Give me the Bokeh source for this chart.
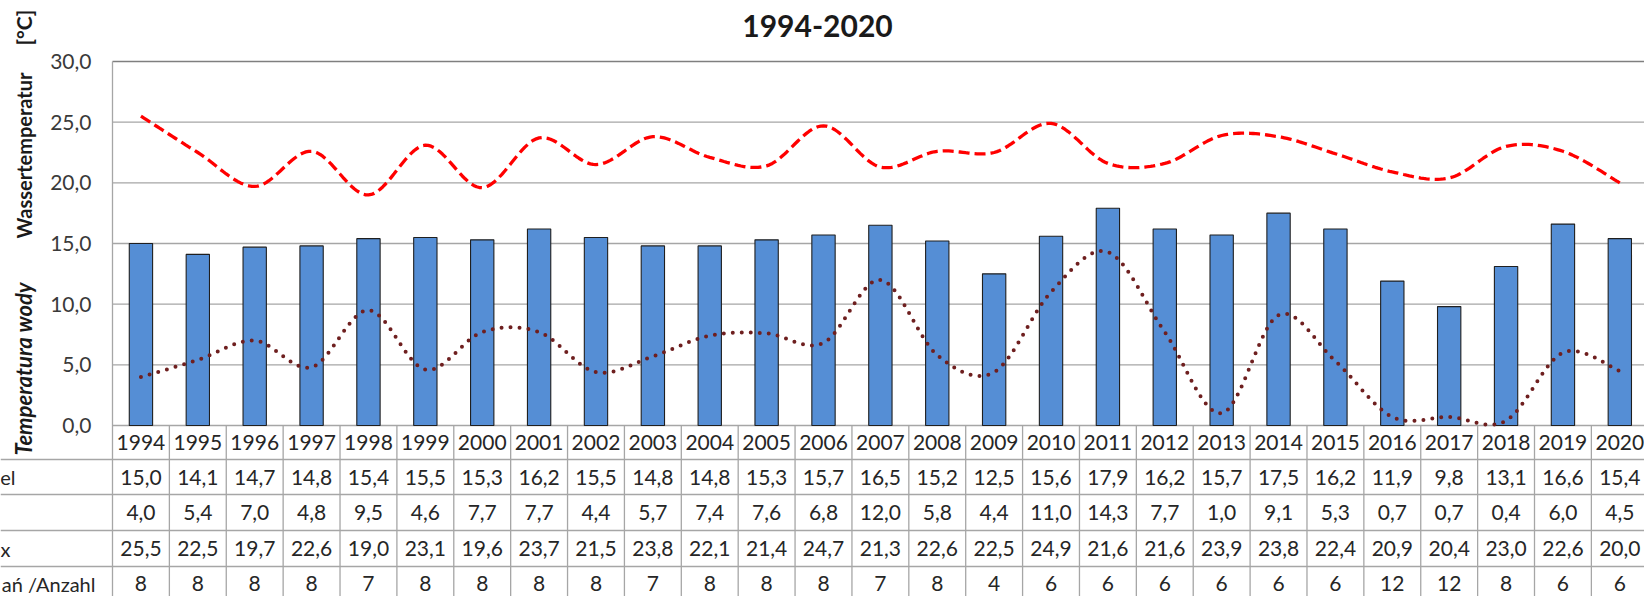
import math
from bokeh.plotting import figure
from bokeh.models import FixedTicker, CustomJSTickFormatter, Label, Range1d
from bokeh.core.properties import value
from bokeh.embed import file_html
from bokeh.resources import INLINE

# ---------------- data ----------------
years = [1994, 1995, 1996, 1997, 1998, 1999, 2000, 2001, 2002, 2003, 2004, 2005, 2006,
         2007, 2008, 2009, 2010, 2011, 2012, 2013, 2014, 2015, 2016, 2017, 2018, 2019, 2020]
t_mean = [15.0, 14.1, 14.7, 14.8, 15.4, 15.5, 15.3, 16.2, 15.5, 14.8, 14.8, 15.3, 15.7,
          16.5, 15.2, 12.5, 15.6, 17.9, 16.2, 15.7, 17.5, 16.2, 11.9, 9.8, 13.1, 16.6, 15.4]
t_min = [4.0, 5.4, 7.0, 4.8, 9.5, 4.6, 7.7, 7.7, 4.4, 5.7, 7.4, 7.6, 6.8,
         12.0, 5.8, 4.4, 11.0, 14.3, 7.7, 1.0, 9.1, 5.3, 0.7, 0.7, 0.4, 6.0, 4.5]
t_max = [25.5, 22.5, 19.7, 22.6, 19.0, 23.1, 19.6, 23.7, 21.5, 23.8, 22.1, 21.4, 24.7,
         21.3, 22.6, 22.5, 24.9, 21.6, 21.6, 23.9, 23.8, 22.4, 20.9, 20.4, 23.0, 22.6, 20.0]
n_meas = [8, 8, 8, 8, 7, 8, 8, 8, 8, 7, 8, 8, 8, 7, 8, 4, 6, 6, 6, 6, 6, 6, 12, 12, 8, 6, 6]
# row labels as far as they are visible in the (cropped) reference
row_labels = ["el", "", "x", "ań /Anzahl"]
y_ticks = [0, 5, 10, 15, 20, 25, 30]
title_text = "1994-2020"
ytitle_parts = ["Temperatura wody", "Wassertemperatur", "[°C]"]

# ---------------- layout helpers (canvas pixel -> data) ----------------
PX_X = 56.88      # pixels per year column
PX_Y = 12.133     # pixels per degree
def xd(px):
    return -0.5 + (px - 112) / PX_X
def yd(py):
    return 30 - (py - 61) / PX_Y

W, H = 1644, 596
FONT = "Lato"
idx = [y - years[0] for y in years]

def fmt(v):
    return f"{v:.1f}".replace(".", ",")

def smooth(xs, ys, n=20):
    pts = list(zip(xs, ys))
    ox, oy = [], []
    for i in range(len(pts) - 1):
        p0 = pts[i - 1] if i > 0 else pts[i]
        p1 = pts[i]
        p2 = pts[i + 1]
        p3 = pts[i + 2] if i + 2 < len(pts) else pts[i + 1]
        c1 = (p1[0] + (p2[0] - p0[0]) / 6, p1[1] + (p2[1] - p0[1]) / 6)
        c2 = (p2[0] - (p3[0] - p1[0]) / 6, p2[1] - (p3[1] - p1[1]) / 6)
        for k in range(n):
            t = k / n
            a, b, c, d = (1 - t) ** 3, 3 * (1 - t) ** 2 * t, 3 * (1 - t) * t ** 2, t ** 3
            ox.append(a * p1[0] + b * c1[0] + c * c2[0] + d * p2[0])
            oy.append(a * p1[1] + b * c1[1] + c * c2[1] + d * p2[1])
    ox.append(pts[-1][0]); oy.append(pts[-1][1])
    return ox, oy

x_start, x_end = xd(0), xd(W)
y_end, y_start = yd(0), yd(H)

p = figure(width=W, height=H, output_backend="svg", toolbar_location=None,
           x_range=Range1d(x_start, x_end), y_range=Range1d(y_start, y_end),
           x_axis_location=None, min_border_left=0, min_border_right=0,
           min_border_top=0, min_border_bottom=0)
p.outline_line_color = None
p.xgrid.visible = False
p.ygrid.visible = False

ax = p.yaxis[0]
ax.fixed_location = -0.5
ax.ticker = FixedTicker(ticks=y_ticks)
ax.formatter = CustomJSTickFormatter(code="return tick.toFixed(1).replace('.', ',');")
ax.axis_line_color = None
ax.major_tick_line_color = None
ax.minor_tick_line_color = None
ax.major_tick_out = 0
ax.major_tick_in = 0
ax.major_label_standoff = 21
ax.major_label_text_font = FONT
ax.major_label_text_font_size = "21px"
ax.major_label_text_color = "#3A3A3A"

GRAY = "#A6A6A6"
# horizontal gridlines
grid_vals = [t for t in y_ticks if 0 < t < 30]
p.segment(x0=[-0.5] * len(grid_vals), y0=grid_vals, x1=[x_end] * len(grid_vals), y1=grid_vals,
          line_color=GRAY, line_width=1.3)
# top border line
p.segment(x0=[-0.5], y0=[30], x1=[x_end], y1=[30], line_color="#7F7F7F", line_width=1.5)
# left border of plot and table
p.segment(x0=[-0.5], y0=[30], x1=[-0.5], y1=[y_start], line_color=GRAY, line_width=1.3)
# x axis line / table top
p.segment(x0=[-0.5], y0=[0], x1=[x_end], y1=[0], line_color=GRAY, line_width=1.3)
# table column separators
p.segment(x0=[i + 0.5 for i in idx], y0=[0] * len(idx), x1=[i + 0.5 for i in idx],
          y1=[y_start] * len(idx), line_color=GRAY, line_width=1.3)
# table row lines (extend to the left edge, under the row labels)
row_lines = [yd(459), yd(494), yd(530), yd(566)]
p.segment(x0=[x_start] * 4, y0=row_lines, x1=[x_end] * 4, y1=row_lines,
          line_color=GRAY, line_width=1.3)

# bars
p.vbar(x=idx, top=t_mean, bottom=0, width=0.41, fill_color="#558ED5",
       line_color="#1F1F1F", line_width=1.1)

# smoothed lines
mx, my = smooth(idx, t_max)
p.line(mx, my, line_color="#FF0000", line_width=3.3, line_dash="11 5")
nx, ny = smooth(idx, t_min)
p.line(nx, ny, line_color="#6E1F1F", line_width=4, line_dash="0 9", line_cap="round")

# table text
rows_y = [yd(442), yd(476.5), yd(512), yd(548), yd(583)]
rows_txt = [[str(y) for y in years], [fmt(v) for v in t_mean], [fmt(v) for v in t_min],
            [fmt(v) for v in t_max], [str(v) for v in n_meas]]
for ry, txt in zip(rows_y, rows_txt):
    p.text(x=idx, y=[ry] * len(idx), text=txt, text_font=value(FONT), text_font_size="21px",
           text_color="#262626", text_align="center", text_baseline="middle")

# row labels (only their visible parts, as in the cropped reference)
lab_x = [xd(15), xd(10), xd(10), xd(95)]
p.text(x=lab_x, y=rows_y[1:], text=row_labels, text_font=value(FONT), text_font_size="20px",
       text_color="#262626", text_align="right", text_baseline="middle")

# title
p.add_layout(Label(x=xd(817), y=yd(25), text=title_text, text_font=FONT, text_font_size="30px",
                   text_font_style="bold", text_color="#1A1A1A", text_align="center",
                   text_baseline="middle"))

# y axis title pieces (rotated)
for txt, start, style, size in zip(ytitle_parts, [455, 238, 45], ["bold italic", "bold", "bold"],
                                   ["22px", "20px", "21px"]):
    p.add_layout(Label(x=xd(23), y=yd(start), text=txt, angle=math.pi / 2, text_font=FONT,
                       text_font_size=size, text_font_style=style, text_color="#1A1A1A",
                       text_align="left", text_baseline="middle"))

open("out.html", "w").write(file_html(p, INLINE))
